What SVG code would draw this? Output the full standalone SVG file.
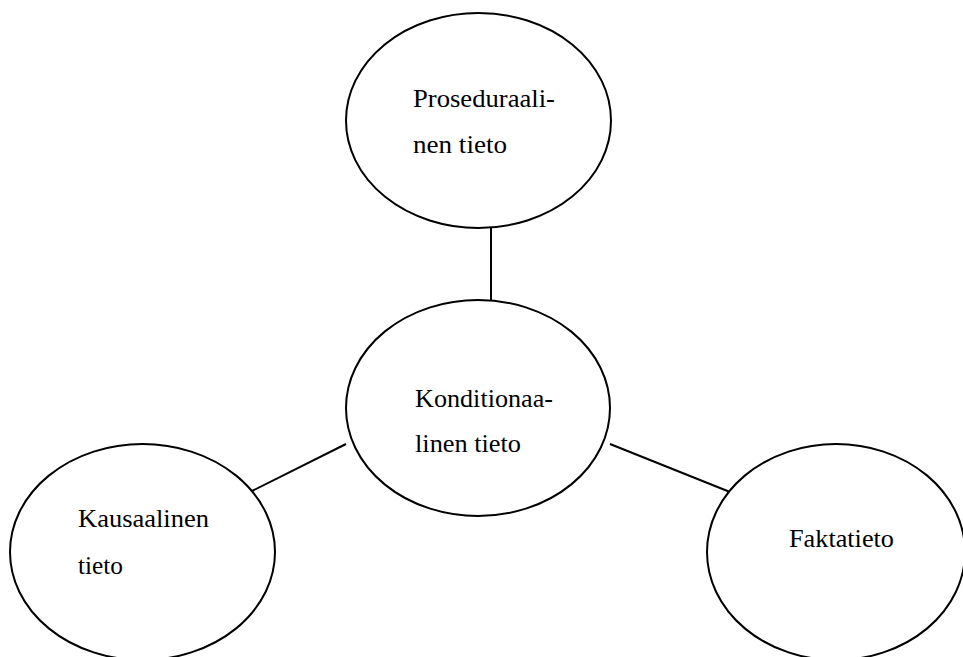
<svg xmlns="http://www.w3.org/2000/svg" width="963" height="657" viewBox="0 0 963 657">
<style>
.node{fill:#fff;stroke:#000;stroke-width:2}
.lbl{font-family:'Liberation Serif',serif;font-size:25px;fill:#000}
.conn{stroke:#000;stroke-width:2;fill:none}
</style>
<rect width="963" height="657" fill="#fff"/>
<g id="connectors">
<line class="conn" x1="491" y1="228" x2="491" y2="300"/>
<line class="conn" x1="252" y1="491" x2="346" y2="444"/>
<line class="conn" x1="610" y1="444" x2="730" y2="492"/>
</g>
<g id="proseduraalinen">
<ellipse class="node" cx="478.5" cy="120.5" rx="132.5" ry="107.5"/>
<text class="lbl" x="413" y="107" textLength="142" lengthAdjust="spacingAndGlyphs">Proseduraali-</text>
<text class="lbl" x="413" y="153" textLength="94" lengthAdjust="spacingAndGlyphs">nen tieto</text>
</g>
<g id="konditionaalinen">
<ellipse class="node" cx="478" cy="408" rx="132" ry="108"/>
<text class="lbl" x="415" y="407" textLength="138" lengthAdjust="spacingAndGlyphs">Konditionaa-</text>
<text class="lbl" x="415" y="452" textLength="106" lengthAdjust="spacingAndGlyphs">linen tieto</text>
</g>
<g id="kausaalinen">
<ellipse class="node" cx="142.5" cy="552" rx="132.5" ry="108"/>
<text class="lbl" x="78" y="527" textLength="131" lengthAdjust="spacingAndGlyphs">Kausaalinen</text>
<text class="lbl" x="78" y="574" textLength="45" lengthAdjust="spacingAndGlyphs">tieto</text>
</g>
<g id="faktatieto">
<ellipse class="node" cx="836" cy="552" rx="129" ry="108"/>
<text class="lbl" x="789" y="547" textLength="105" lengthAdjust="spacingAndGlyphs">Faktatieto</text>
</g>
</svg>
